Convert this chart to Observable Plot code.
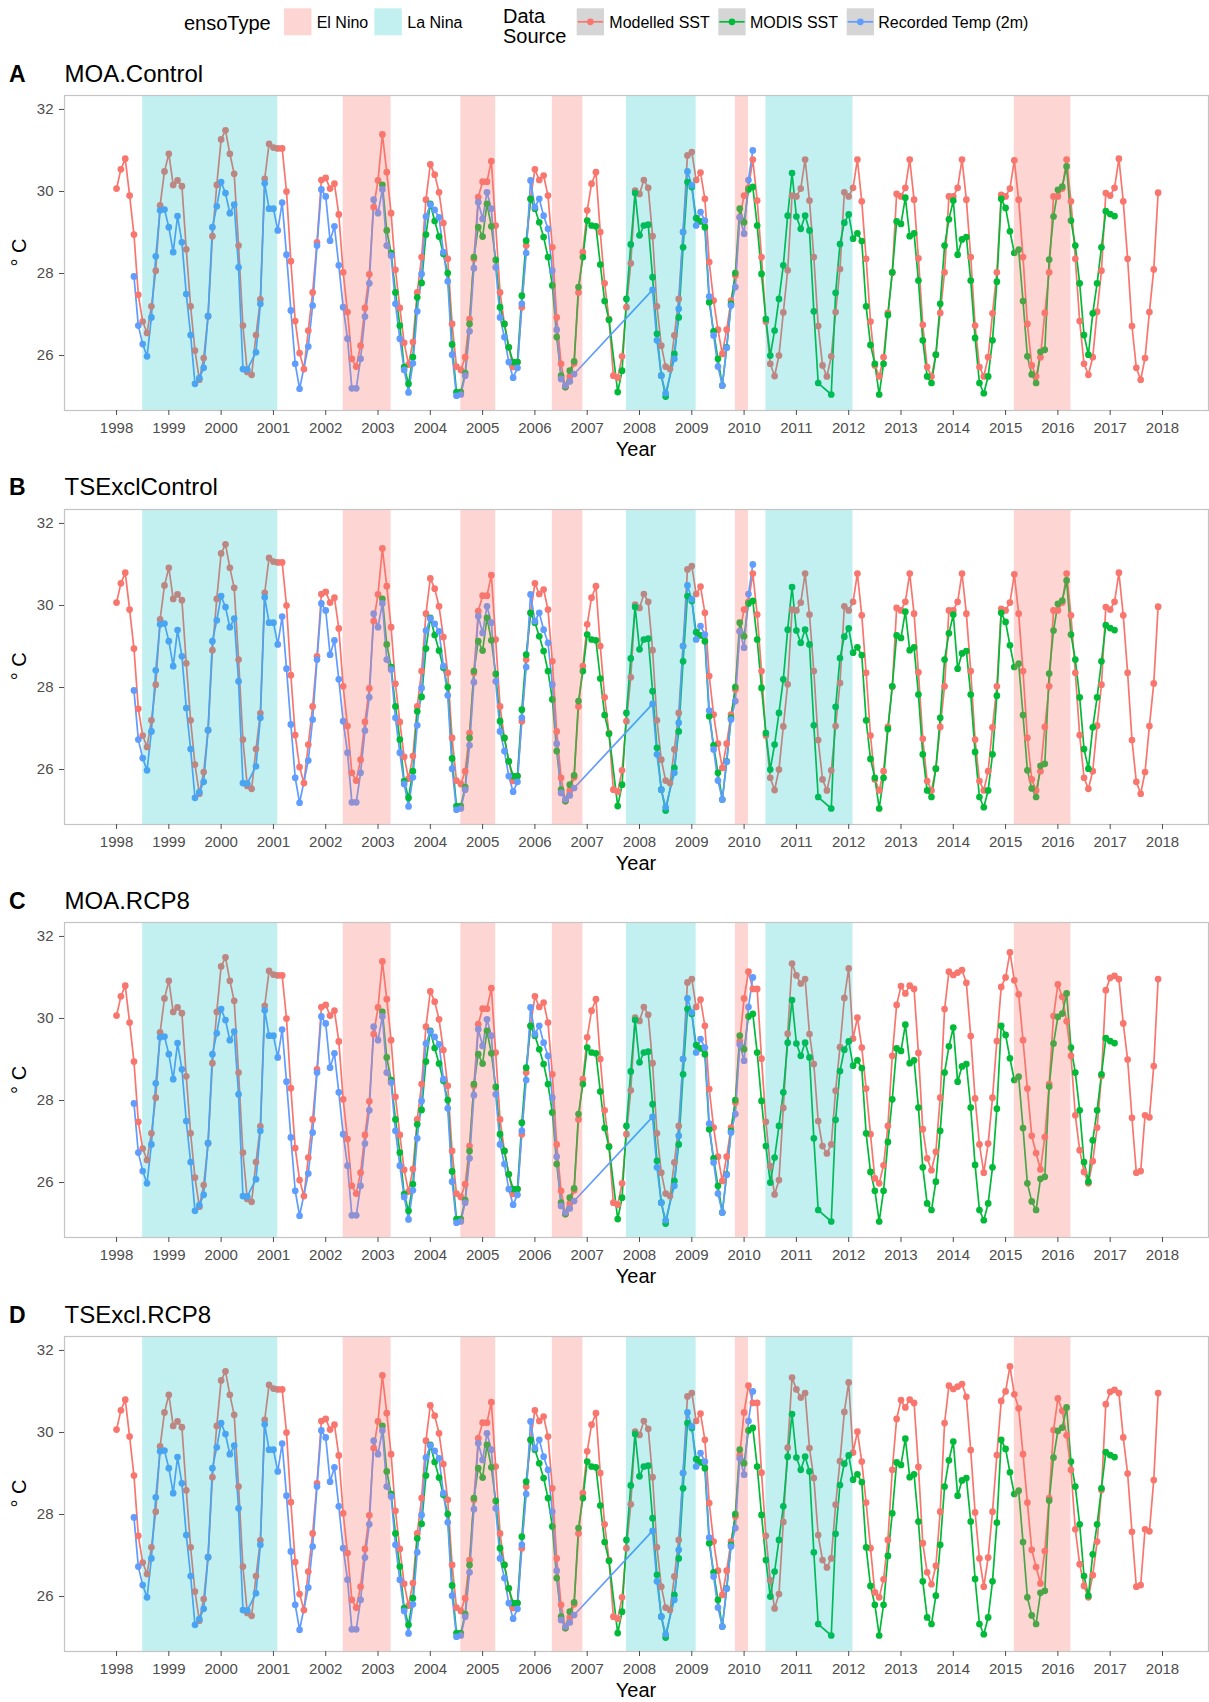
<!DOCTYPE html>
<html><head><meta charset="utf-8">
<script src="https://cdn.jsdelivr.net/npm/d3@7"></script>
<script src="https://cdn.jsdelivr.net/npm/@observablehq/plot@0.6"></script>
<style>
html,body{margin:0;padding:0;background:#fff;overflow:hidden;}
#root{position:relative;width:1209px;height:1702px;overflow:hidden;font-family:"Liberation Sans",Arial,sans-serif;}
#root svg.panel{position:absolute;left:0;}
</style></head><body><div id="root"></div>
<script>
// ---------------- data ----------------
const panelLetters = ["A","B","C","D"];
const panelNames = ["MOA.Control","TSExclControl","MOA.RCP8","TSExcl.RCP8"];
const seriesNames = ["Modelled SST","MODIS SST","Recorded Temp (2m)"];
const ensoTypes = ["El Nino","La Nina"];
const xTicks = [1998,1999,2000,2001,2002,2003,2004,2005,2006,2007,2008,2009,2010,2011,2012,2013,2014,2015,2016,2017,2018];
const yTicks = [26,28,30,32];

// ENSO periods (decimal years)
const ensoStart = [1998.5, 2002.333, 2004.583, 2006.333, 2007.75, 2009.833, 2010.417, 2015.167];
const ensoEnd   = [2001.083, 2003.25, 2005.25, 2006.917, 2009.083, 2010.083, 2012.083, 2016.25];
const ensoType  = ["La Nina","El Nino","El Nino","El Nino","La Nina","El Nino","La Nina","El Nino"];

// Modelled SST, monthly from Jan 1998 — common part Jan 1998 .. Oct 2009
const modelledShared = [
30.07,30.54,30.80,29.90,28.95,27.48,26.83,26.55,27.20,28.07,29.66,30.49,
30.92,30.16,30.27,30.13,28.59,27.20,26.12,25.41,25.94,26.96,28.91,30.16,
31.27,31.49,30.92,30.43,28.68,26.73,25.60,25.53,26.50,27.37,30.31,31.16,
31.07,31.05,31.05,30.00,28.30,26.84,26.06,25.67,26.61,27.54,28.76,30.28,
30.33,30.07,30.19,29.44,28.03,27.06,25.92,25.73,26.24,27.16,27.98,29.62,
30.27,31.39,30.47,29.47,28.09,27.16,26.31,25.78,26.33,27.54,28.40,29.80,
30.66,30.41,29.98,29.23,28.36,26.77,25.73,25.65,25.96,26.89,28.36,29.86,
30.24,30.24,30.74,29.17,27.54,26.77,26.20,25.72,25.84,27.18,28.68,29.82,
30.54,30.28,30.39,29.90,28.64,26.93,25.80,25.23,25.49,25.81,27.54,28.52,
29.54,30.19,30.47,29.01,27.76,26.89,25.51,25.46,25.98,27.18,28.25,30.02,
29.94,30.28,30.09,28.91,27.20,26.24,25.73,25.67,26.49,27.38,29.01,30.88,
30.96,30.28,30.46,29.82,28.28,27.34,26.63,26.04,26.63,27.34
];
// Control runs, Nov 2009 .. Dec 2017
const modelledControlTail = [
27.95,29.37,
29.90,30.09,30.78,29.78,28.40,26.83,25.80,25.50,26.00,27.05,28.08,29.90,
29.88,30.07,30.78,29.78,28.40,26.72,25.76,25.49,25.98,27.06,28.11,29.98,
29.88,30.09,30.78,29.76,28.36,26.83,25.76,25.49,25.96,27.04,28.02,29.94,
29.88,30.09,30.78,29.80,28.37,26.75,25.72,25.49,26.02,27.04,28.03,29.88,
29.88,30.09,30.78,29.80,28.40,26.73,25.72,25.49,25.96,27.03,28.03,29.92,
29.88,30.07,30.76,29.80,28.40,26.77,25.76,25.49,25.96,27.04,28.03,29.88,
29.88,30.07,30.78,29.76,28.36,26.84,25.80,25.53,25.96,27.07,28.07,29.96,
29.90,30.09,30.80,29.76,28.36,26.72,25.70,25.41,25.94,27.06,28.10,29.97
];
// RCP8 runs, Nov 2009 .. Dec 2017
const modelledRCP8Tail = [
27.95,29.45,
30.49,31.14,30.72,30.72,29.02,27.48,26.40,25.71,26.06,27.82,29.63,31.34,
31.05,30.85,30.96,29.62,28.89,27.50,26.89,26.71,26.93,28.24,29.30,30.50,
31.22,29.51,30.02,29.29,28.29,27.18,26.10,25.98,26.42,27.38,29.09,30.33,
30.79,30.61,30.80,30.72,29.16,27.30,26.59,26.30,26.75,28.07,30.23,31.14,
31.06,31.12,31.18,30.87,29.57,28.05,26.93,26.24,26.95,28.07,29.45,30.77,
31.00,31.61,30.93,30.59,29.47,28.29,27.14,26.72,26.32,27.11,28.40,30.06,
30.83,30.53,29.93,29.09,27.64,26.79,26.26,25.98,26.52,27.34,28.60,30.69,
30.99,31.04,30.96,29.88,29.00,27.58,26.24,26.28,27.64,27.59,28.84,30.96
];

// MODIS SST, monthly from Jan 1998 (null = no value)
const modisSST = [
null,null,null,null,null,null,null,null,null,null,null,null,
null,null,null,null,null,null,null,null,null,null,null,null,
null,null,null,null,null,null,null,null,null,null,null,null,
null,null,null,null,null,null,null,null,null,null,null,null,
null,null,null,null,null,null,null,null,null,null,null,null,
null,30.16,29.05,28.50,27.54,26.73,25.72,25.31,25.96,27.42,27.77,28.95,
29.70,29.28,28.90,28.48,28.01,26.27,25.11,25.11,25.57,26.77,28.40,29.13,
28.90,29.70,29.15,28.33,27.18,26.77,26.20,25.84,25.84,27.46,28.80,29.82,
29.58,29.25,28.89,28.40,27.71,26.45,25.51,25.23,25.63,25.86,27.67,28.40,
29.29,29.17,29.15,28.22,27.33,26.87,null,25.11,25.63,27.38,28.71,29.96,
28.93,29.17,29.19,27.91,26.53,25.51,25.00,null,26.04,26.93,28.64,30.23,
30.11,29.35,29.27,29.13,27.30,26.59,25.92,25.27,26.20,27.26,28.01,29.58,
29.25,30.05,30.11,29.17,27.99,26.89,26.00,26.61,27.38,28.20,29.41,30.45,
29.39,29.09,29.41,29.05,27.08,25.33,null,null,25.05,27.53,28.72,29.24,
29.44,28.85,28.98,28.79,27.20,26.26,25.80,25.05,25.80,26.99,28.03,29.27,
29.21,29.85,28.91,28.98,27.83,26.37,25.49,25.33,26.02,27.26,28.68,29.32,
29.78,28.46,28.83,28.89,27.83,26.43,25.33,25.08,25.49,26.37,27.80,29.82,
29.60,29.03,28.50,28.58,27.33,25.98,25.54,25.33,26.09,26.14,28.34,29.39,
30.04,30.12,30.61,29.29,28.68,27.76,26.50,26.02,27.03,27.76,28.64,29.52,
29.45,29.40,null,null,null,null,null,null,null,null,null,null
];

// Recorded temperature at 2 m, monthly from Jan 1998 (null = no value)
const recordedTemp = [
null,null,null,null,27.93,26.73,26.28,25.98,26.93,28.42,29.54,29.56,
29.13,28.52,29.40,28.76,27.50,26.50,25.31,25.45,25.70,26.96,29.13,29.64,
30.23,29.96,29.47,29.68,28.15,25.67,25.66,null,26.08,27.26,30.20,29.58,
29.58,29.05,29.73,28.46,27.10,25.80,25.19,null,26.22,27.22,28.68,30.05,
29.88,28.80,29.15,28.20,27.18,26.41,25.20,25.20,25.92,26.95,27.76,29.80,
29.47,30.05,28.68,28.44,27.26,26.41,25.65,25.10,25.81,27.08,27.99,29.39,
29.68,29.55,29.37,28.52,27.81,26.02,25.02,25.05,25.51,26.59,28.13,29.74,
29.33,29.98,29.58,28.15,26.93,26.45,25.84,25.46,25.70,27.26,28.50,30.27,
29.62,29.82,29.41,29.09,28.07,26.63,25.43,25.27,25.37,25.55,null,null,
null,null,null,null,null,null,null,null,null,null,null,null,
null,null,null,27.60,26.37,25.51,25.08,null,25.92,27.14,29.01,30.49,
30.15,29.17,29.50,29.29,27.44,26.49,25.73,25.27,26.19,27.22,27.67,29.37,
28.97,30.28,31.00
];

// ---------------- drawing ----------------
const COL = {"Modelled SST":"#F8766D","MODIS SST":"#00BA38","Recorded Temp (2m)":"#619CFF"};
const ENSO_FILL = {"El Nino":"#F8766D","La Nina":"#00BFC4"};
const ENSO_OP = {"El Nino":0.3,"La Nina":0.24};
const FONT = '"Liberation Sans", Arial, sans-serif';

const root = document.getElementById("root");
const plotTops = [95, 508.7, 922.4, 1336.1];
const PLOT_H = 315, MT = 5, MB = 60;

function toRows(arr){ return arr.map((v,k)=>({t:1998 + k/12, v})).filter(d => d.v != null); }
const enso = ensoStart.map((s,i)=>({start:s, end:ensoEnd[i], type:ensoType[i]}));

const modelledControl = modelledShared.concat(modelledControlTail);
const modelledRCP8 = modelledShared.concat(modelledRCP8Tail);

panelNames.forEach((name, i) => {
  const red = toRows(i < 2 ? modelledControl : modelledRCP8);
  const green = toRows(modisSST);
  const blue = toRows(recordedTemp);
  const lineOpts = {x:"t", y:"v", strokeWidth:1.7};
  const dotOpts = {x:"t", y:"v", r:3.35};
  const p = Plot.plot({
    width: 1209, height: MT + PLOT_H + MB,
    marginTop: MT, marginBottom: MB, marginLeft: 64, marginRight: 1,
    style: {background:"transparent", fontFamily: FONT, fontSize:"15px", color:"#4d4d4d", overflow:"visible"},
    x: {domain:[1997.005, 2018.88]},
    y: {domain:[24.66, 32.34]},
    marks: [
      Plot.line(red, {...lineOpts, stroke: COL["Modelled SST"]}),
      Plot.line(green, {...lineOpts, stroke: COL["MODIS SST"]}),
      Plot.line(blue, {...lineOpts, stroke: COL["Recorded Temp (2m)"]}),
      Plot.dot(red, {...dotOpts, fill: COL["Modelled SST"]}),
      Plot.dot(green, {...dotOpts, fill: COL["MODIS SST"]}),
      Plot.dot(blue, {...dotOpts, fill: COL["Recorded Temp (2m)"]}),
      ...ensoTypes.map(tp => Plot.rect(enso.filter(d => d.type === tp), {x1:"start", x2:"end", fill: ENSO_FILL[tp], fillOpacity: ENSO_OP[tp]})),
      Plot.frame({stroke:"#c4c4c4", strokeWidth:1.2}),
      Plot.axisX({ticks: xTicks, tickFormat: d => String(d), tickSize:5, tickPadding:7, fontSize:15, label:null, color:"#4d4d4d"}),
      Plot.axisY({ticks: yTicks, tickFormat: d => String(d), tickSize:5, tickPadding:6, fontSize:15, label:null, color:"#4d4d4d"})
    ]
  });
  p.classList.add("panel");
  p.style.top = (plotTops[i] - MT) + "px";
  root.appendChild(p);
});

// ---------------- overlay: legend, titles, axis titles ----------------
const NS = "http://www.w3.org/2000/svg";
const ov = document.createElementNS(NS, "svg");
ov.setAttribute("width", 1209); ov.setAttribute("height", 1702);
ov.style.cssText = "position:absolute;left:0;top:0;pointer-events:none;";
ov.setAttribute("font-family", FONT);
root.appendChild(ov);
function el(tag, attrs, text){
  const e = document.createElementNS(NS, tag);
  for (const k in attrs) e.setAttribute(k, attrs[k]);
  if (text != null) e.textContent = text;
  ov.appendChild(e); return e;
}
// legend: ensoType
el("text", {x:184, y:30, "font-size":20, fill:"#000"}, "ensoType");
const ensoKeyX = [284, 374.3];
const ensoLabelX = [316.7, 407.3];
ensoTypes.forEach((tp, j) => {
  el("rect", {x:ensoKeyX[j], y:8.3, width:27.5, height:27, fill:ENSO_FILL[tp], "fill-opacity":ENSO_OP[tp]});
  el("text", {x:ensoLabelX[j], y:28.3, "font-size":16, fill:"#000"}, tp);
});
// legend: Data Source
el("text", {x:503, y:22.7, "font-size":20, fill:"#000"}, "Data");
el("text", {x:503, y:43.3, "font-size":20, fill:"#000"}, "Source");
const srcKeyX = [576.7, 718.3, 846.7];
const srcLabelX = [609.3, 750, 878.3];
seriesNames.forEach((s, j) => {
  const x0 = srcKeyX[j];
  el("rect", {x:x0, y:8.3, width:27.3, height:27, fill:"#d5d5d5"});
  el("line", {x1:x0+1, x2:x0+26.3, y1:21.8, y2:21.8, stroke:COL[s], "stroke-width":1.7});
  el("circle", {cx:x0+13.65, cy:21.8, r:3.35, fill:COL[s]});
  el("text", {x:srcLabelX[j], y:28.3, "font-size":16, fill:"#000"}, s);
});
// panel titles and axis titles
panelNames.forEach((name, i) => {
  const off = plotTops[i] - plotTops[0];
  el("text", {x:9, y:81.7 + off, "font-size":23, "font-weight":"bold", fill:"#000"}, panelLetters[i]);
  el("text", {x:64.5, y:81.7 + off, "font-size":24, fill:"#000"}, name);
  el("text", {x:636, y:456 + off, "font-size":20, fill:"#000", "text-anchor":"middle"}, "Year");
  el("text", {x:0, y:0, "font-size":20, fill:"#000", "text-anchor":"middle",
              transform:`translate(25.5,${252.5 + off}) rotate(-90)`}, "\u00B0 C");
});
</script>
</body></html>
